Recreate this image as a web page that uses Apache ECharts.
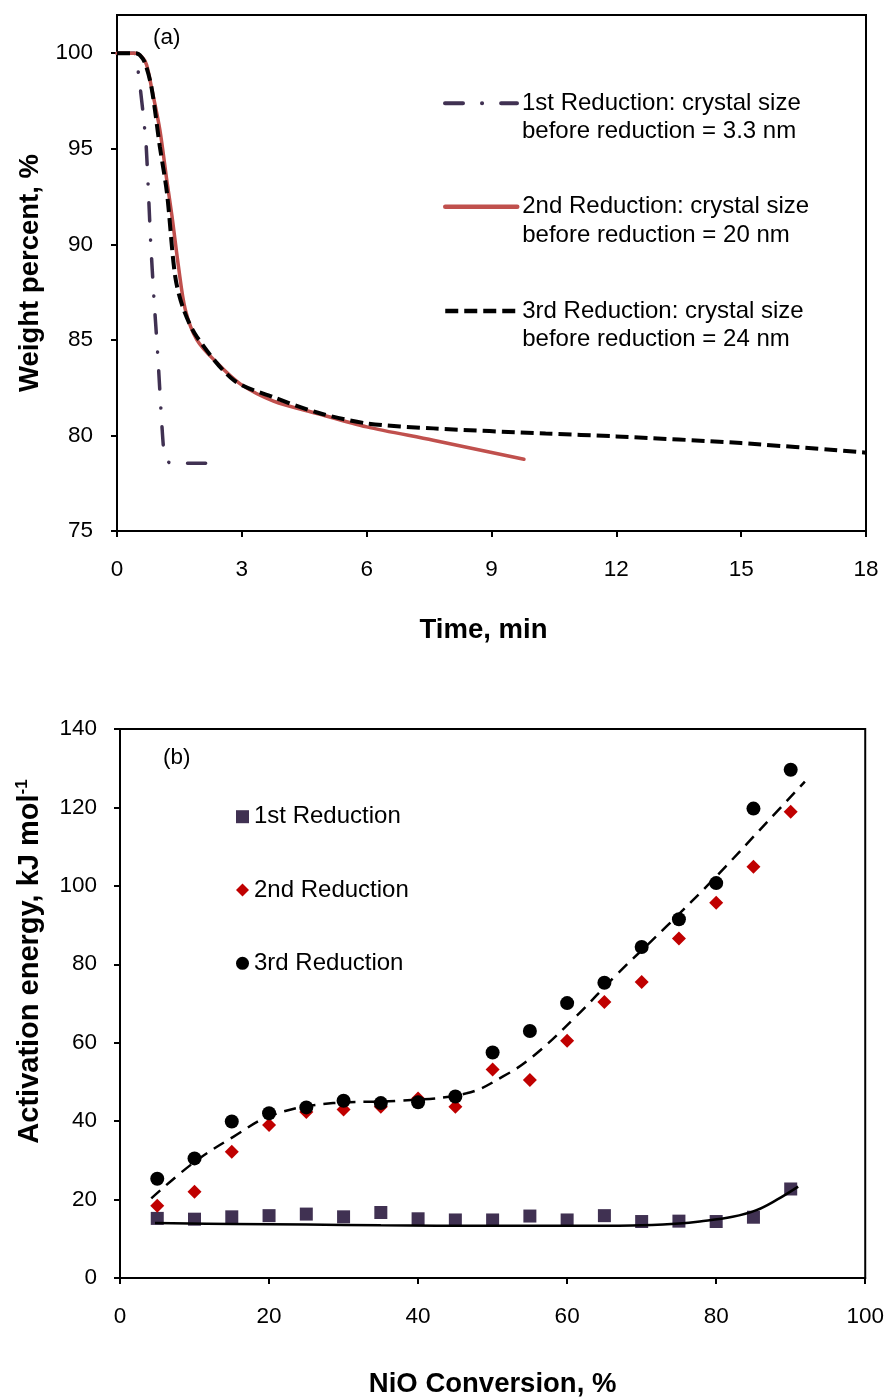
<!DOCTYPE html>
<html>
<head>
<meta charset="utf-8">
<script src="https://cdn.jsdelivr.net/npm/echarts@6/dist/echarts.min.js"></script>
<style>html,body{margin:0;padding:0;background:#fff}#c{width:887px;height:1399px}</style>
</head>
<body>
<div id="c"></div>
<script>
// ---------- Panel (a): weight percent vs time ----------
const namesA = [
  '1st Reduction: crystal size\nbefore reduction = 3.3 nm',
  '2nd Reduction: crystal size\nbefore reduction = 20 nm',
  '3rd Reduction: crystal size\nbefore reduction = 24 nm'
];
const red1 = [[0,100],[0.42,100],[0.5,99.2],[0.62,97],[0.7,95.2],[0.76,92.5],[0.81,90.1],[0.89,87.1],[0.98,84.2],[1.06,81.2],[1.12,79.3],[1.18,78.7],[1.3,78.55],[2.16,78.55]];
const red2 = [[0,100],[0.45,100],[0.6,99.8],[0.71,99.4],[0.83,98.2],[1.03,96.0],[1.2,93.3],[1.32,91.5],[1.48,88.8],[1.64,86.6],[1.92,85.0],[2.4,83.8],[2.96,82.7],[3.76,81.8],[4.81,81.15],[6.0,80.45],[7.6,79.75],[9.78,78.75]];
const red3 = [[0,100],[0.45,100],[0.55,99.9],[0.67,99.5],[0.83,98.2],[1.03,95.1],[1.2,92.7],[1.4,88.3],[1.6,86.6],[1.92,85.16],[2.8,82.9],[3.76,82.0],[4.81,81.2],[6.0,80.63],[7.6,80.37],[10.3,80.1],[12,79.95],[15,79.6],[18,79.1]];
const yTicksA = [75,80,85,90,95,100];

// ---------- Panel (b): activation energy vs conversion ----------
const namesB = ['1st Reduction','2nd Reduction','3rd Reduction'];
const conv = [5,10,15,20,25,30,35,40,45,50,55,60,65,70,75,80,85,90];
const ea1 = [15.2,15.0,15.6,15.9,16.3,15.6,16.7,15.1,14.8,14.8,15.8,14.8,15.9,14.4,14.5,14.4,15.5,22.7];
const ea2 = [18.4,22.0,32.2,39.0,42.3,43.0,43.7,45.8,43.7,53.2,50.5,60.5,70.4,75.5,86.6,95.7,104.9,118.9];
const ea3 = [25.3,30.5,39.9,42.0,43.5,45.2,44.6,44.8,46.3,57.5,63.0,70.1,75.3,84.4,91.5,100.7,119.7,129.6];
const fit1 = [[4.7,14.0],[15,13.8],[25,13.65],[35,13.45],[50,13.3],[60,13.3],[68.8,13.4],[75,13.9],[77.8,14.4],[82.2,15.6],[85.4,17.3],[88.1,19.9],[91,23.3]];
const fit23 = [[4.2,20.3],[9.8,29.3],[15.2,36.0],[20.5,41.6],[28.6,44.6],[37.5,45.2],[46.5,47.1],[51.4,51.4],[55.4,56.5],[61.2,66.7],[66.6,77.3],[73.3,89.6],[80,102.4],[86.7,116.0],[91.9,126.6]];

const FONT = 'Liberation Sans, Arial, sans-serif';
const TICK_FS = 22.5;
const LEG_FS = 24;
const TITLE_FS = 27.5;

function pair(xs, ys){ return xs.map((x,i)=>[x, ys[i]]); }

const axisCommon = {
  axisLine: {show:true, onZero:false, lineStyle:{color:'#000', width:2}},
  axisTick: {show:true, inside:false, length:6, lineStyle:{color:'#000', width:2}},
  splitLine: {show:false},
  nameLocation: 'middle',
  nameTextStyle: {fontFamily: FONT, fontSize: TITLE_FS, fontWeight:'bold', color:'#000'}
};
const lbl = (m) => ({color:'#000', fontFamily:FONT, fontSize:TICK_FS, margin:m});

const chart = echarts.init(document.getElementById('c'), null, {renderer:'canvas'});

const legendA = namesA.map((n, i) => ({
  data: [n],
  left: 443,
  top: [60.5, 164, 268.3][i],
  padding: 0,
  itemWidth: 72,
  itemHeight: 14,
  selectedMode: false,
  formatter: (name) => '\n' + name,
  lineStyle: {width: [4, 4.5, 4.5][i]},
  itemStyle: {opacity: 0},
  textStyle: {fontFamily:FONT, fontSize:LEG_FS, color:'#000', lineHeight:28.5}
}));
const legendB = namesB.map((n, i) => ({
  data: [n],
  left: 236,
  top: [802.7, 876, 949.3][i],
  padding: 0,
  itemWidth: 13,
  itemHeight: 13,
  selectedMode: false,
  textStyle: {fontFamily:FONT, fontSize:LEG_FS, color:'#000', lineHeight:28}
}));

const option = {
  backgroundColor: '#fff',
  animation: false,
  title: [
    {text:'(a)', left:153, top:26, padding:0, textStyle:{fontFamily:FONT, fontSize:TICK_FS, fontWeight:'normal', color:'#000'}},
    {text:'(b)', left:163, top:746, padding:0, textStyle:{fontFamily:FONT, fontSize:TICK_FS, fontWeight:'normal', color:'#000'}}
  ],
  legend: legendA.concat(legendB),
  grid: [
    {left:117, right:21, top:15, bottom:868, show:true, borderColor:'#000', borderWidth:2, backgroundColor:'transparent'},
    {left:120, right:21, top:729, bottom:121, show:true, borderColor:'#000', borderWidth:2, backgroundColor:'transparent'}
  ],
  xAxis: [
    Object.assign({}, axisCommon, {
      gridIndex:0, type:'value', min:0, max:18, interval:3,
      name:'Time, min', nameGap:85,
      nameTextStyle: Object.assign({}, axisCommon.nameTextStyle, {padding:[0,16,0,0]}),
      axisLabel: lbl(27)
    }),
    Object.assign({}, axisCommon, {
      gridIndex:1, type:'value', min:0, max:100, interval:20,
      name:'NiO Conversion, %', nameGap:92,
      axisLabel: lbl(27.5)
    })
  ],
  yAxis: [
    Object.assign({}, axisCommon, {
      gridIndex:0, type:'value', min:75, max:102, interval:5,
      name:'Weight percent, %', nameGap:73,
      axisLabel: Object.assign(lbl(24), {customValues: yTicksA}),
      axisTick: Object.assign({}, axisCommon.axisTick, {customValues: yTicksA})
    }),
    Object.assign({}, axisCommon, {
      gridIndex:1, type:'value', min:0, max:140, interval:20,
      name:'{m|Activation energy, kJ mol}{s|-1}', nameGap:75,
      nameTextStyle: {
        fontFamily:FONT, fontSize:29, fontWeight:'bold', color:'#000',
        padding:[0,0,0,84],
        rich: {
          m: {fontFamily:FONT, fontSize:29, fontWeight:'bold', color:'#000', lineHeight:31},
          s: {fontFamily:FONT, fontSize:17, fontWeight:'bold', color:'#000', verticalAlign:'top', lineHeight:31}
        }
      },
      axisLabel: lbl(23)
    })
  ],
  series: [
    {name:namesA[0], type:'line', xAxisIndex:0, yAxisIndex:0, data:red1, symbol:'none', smooth:0.2,
     lineStyle:{color:'#403152', width:3.5, type:[18,19,0.1,19], cap:'round'}, itemStyle:{color:'#403152'}},
    {name:namesA[1], type:'line', xAxisIndex:0, yAxisIndex:0, data:red2, symbol:'none', smooth:0.3,
     lineStyle:{color:'#C0504D', width:3.5, type:'solid', cap:'round'}, itemStyle:{color:'#C0504D'}},
    {name:namesA[2], type:'line', xAxisIndex:0, yAxisIndex:0, data:red3, symbol:'none', smooth:0.3,
     lineStyle:{color:'#000', width:4, type:[13,6], cap:'butt'}, itemStyle:{color:'#000'}},

    {name:'fit1', type:'line', xAxisIndex:1, yAxisIndex:1, data:fit1, symbol:'none', smooth:0.4,
     lineStyle:{color:'#000', width:2.5}, z:3},
    {name:'fit23', type:'line', xAxisIndex:1, yAxisIndex:1, data:fit23, symbol:'none', smooth:0.4,
     lineStyle:{color:'#000', width:2.5, type:[12,8]}, z:3},
    {name:namesB[0], type:'scatter', xAxisIndex:1, yAxisIndex:1, data:pair(conv, ea1), symbol:'rect', symbolSize:13,
     itemStyle:{color:'#403152', opacity:1}, z:2},
    {name:namesB[1], type:'scatter', xAxisIndex:1, yAxisIndex:1, data:pair(conv, ea2), symbol:'diamond', symbolSize:14,
     itemStyle:{color:'#C00000', opacity:1}, z:2},
    {name:namesB[2], type:'scatter', xAxisIndex:1, yAxisIndex:1, data:pair(conv, ea3), symbol:'circle', symbolSize:14,
     itemStyle:{color:'#000', opacity:1}, z:2}
  ]
};
chart.setOption(option);
</script>
</body>
</html>
